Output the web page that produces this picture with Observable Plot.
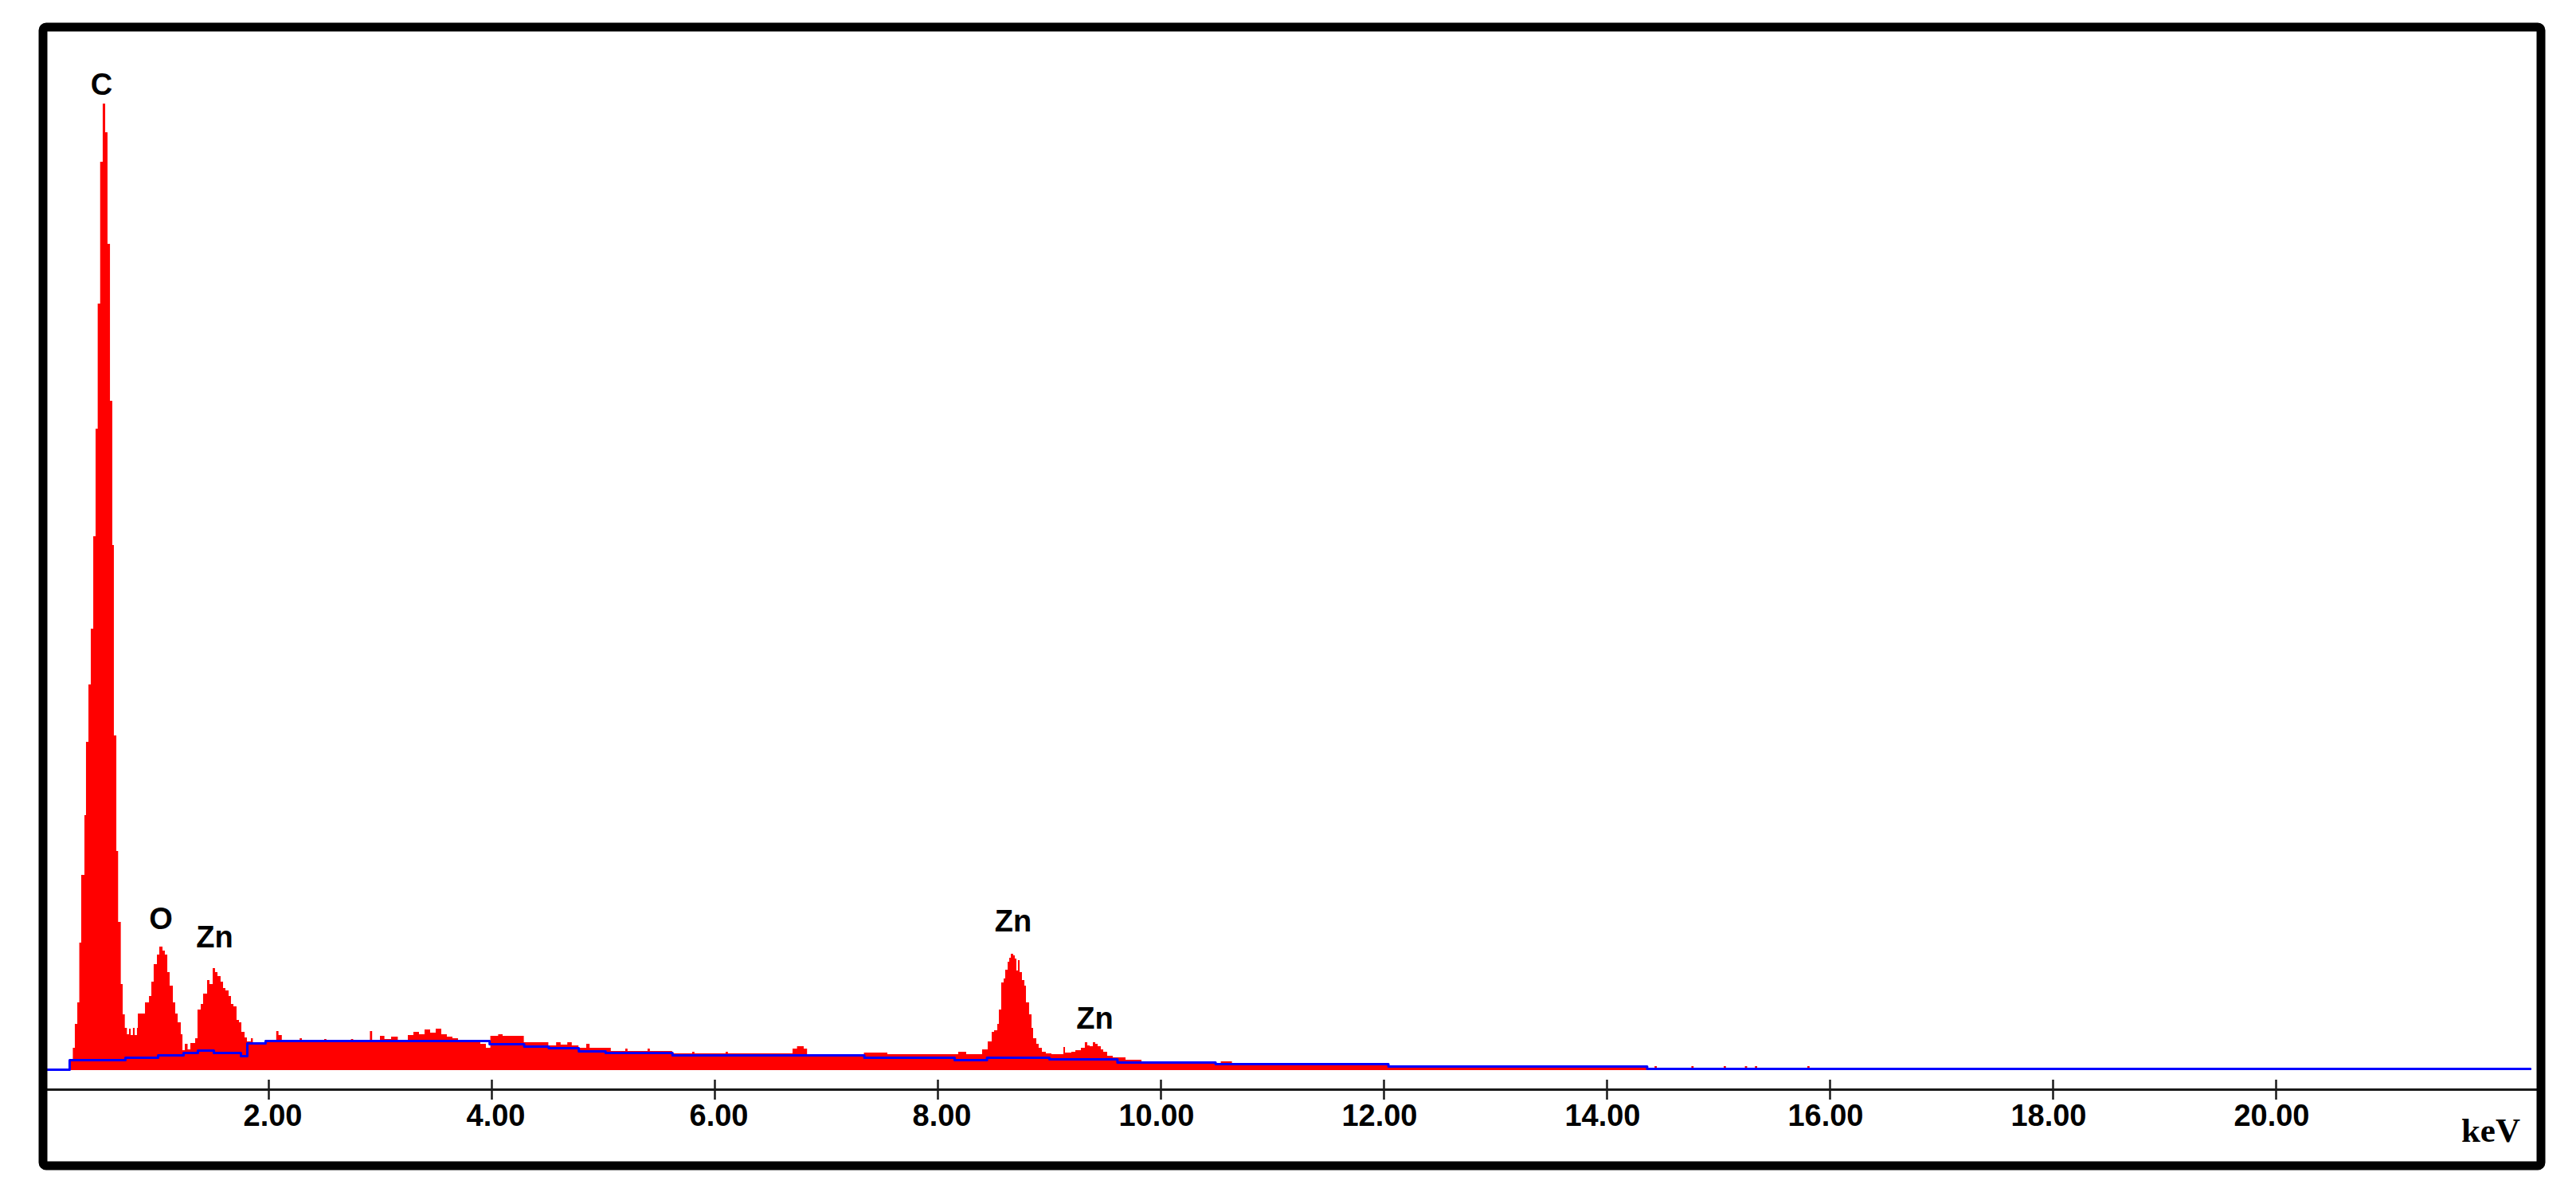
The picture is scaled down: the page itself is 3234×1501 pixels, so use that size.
<!DOCTYPE html>
<html>
<head>
<meta charset="utf-8">
<script src="https://cdn.jsdelivr.net/npm/d3@7"></script>
<script src="https://cdn.jsdelivr.net/npm/@observablehq/plot@0.6"></script>
<style>
  html, body { margin: 0; padding: 0; background: #ffffff; }
  #chart svg { display: block; }
</style>
</head>
<body>
<div id="chart"></div>
<script>
// EDS spectrum: [energy keV (step start), counts]
const spectrum = [
  [0.225, 11], [0.246, 28], [0.264, 58], [0.286, 85], [0.304, 160], [0.321, 245],
  [0.35, 320], [0.364, 412], [0.386, 484], [0.407, 554], [0.429, 670], [0.45, 805],
  [0.469, 962], [0.491, 1140], [0.514, 1213], [0.536, 1177], [0.557, 1037], [0.579, 840],
  [0.6, 659], [0.614, 420], [0.636, 275], [0.652, 186], [0.676, 108], [0.693, 70],
  [0.712, 53], [0.731, 45], [0.75, 52], [0.765, 44], [0.785, 53], [0.8, 44],
  [0.821, 53], [0.829, 71], [0.893, 85], [0.929, 93], [0.95, 111], [0.971, 133],
  [1.0, 145], [1.021, 155], [1.05, 150], [1.071, 145], [1.093, 123], [1.114, 106],
  [1.143, 85], [1.164, 71], [1.186, 60], [1.214, 45], [1.229, 25], [1.25, 33],
  [1.275, 26], [1.3, 34], [1.343, 40], [1.364, 76], [1.393, 83], [1.414, 96],
  [1.45, 113], [1.471, 108], [1.5, 128], [1.521, 123], [1.543, 118], [1.571, 111],
  [1.593, 103], [1.614, 100], [1.643, 93], [1.664, 83], [1.686, 80], [1.714, 63],
  [1.736, 60], [1.757, 48], [1.786, 41], [1.807, 36], [1.843, 40], [1.86, 34],
  [1.97, 36], [2.07, 49], [2.09, 44], [2.12, 37], [2.28, 40], [2.3, 37],
  [2.5, 39], [2.52, 37], [2.74, 39], [2.76, 37], [2.91, 49], [2.93, 37],
  [3.0, 43], [3.04, 39], [3.1, 42], [3.16, 38], [3.25, 44], [3.3, 48],
  [3.35, 45], [3.4, 51], [3.45, 47], [3.5, 52], [3.55, 45], [3.6, 42],
  [3.65, 40], [3.7, 38], [3.78, 35], [3.9, 33], [3.95, 28], [3.99, 43],
  [4.06, 45], [4.1, 43], [4.29, 35], [4.51, 31], [4.58, 35], [4.62, 32],
  [4.68, 35], [4.72, 31], [4.78, 28], [4.85, 33], [4.88, 28], [5.07, 24],
  [5.2, 27], [5.22, 24], [5.4, 27], [5.42, 24], [5.62, 21], [5.8, 23],
  [5.82, 21], [6.1, 23], [6.12, 21], [6.7, 27], [6.74, 30], [6.8, 27],
  [6.83, 19], [7.34, 22], [7.55, 20], [8.186, 23], [8.257, 20], [8.4, 26],
  [8.45, 36], [8.486, 48], [8.507, 50], [8.536, 58], [8.55, 76], [8.571, 110],
  [8.593, 115], [8.607, 126], [8.629, 136], [8.643, 141], [8.657, 146], [8.679, 144],
  [8.693, 140], [8.707, 125], [8.721, 138], [8.736, 123], [8.757, 113], [8.779, 106],
  [8.793, 85], [8.821, 70], [8.843, 53], [8.857, 40], [8.886, 33], [8.907, 28],
  [8.936, 23], [8.971, 21], [9.021, 20], [9.129, 29], [9.143, 22], [9.2, 23],
  [9.236, 25], [9.286, 28], [9.321, 35], [9.343, 31], [9.364, 30], [9.393, 35],
  [9.414, 33], [9.436, 30], [9.464, 26], [9.486, 23], [9.521, 18], [9.571, 16],
  [9.686, 13], [9.829, 10], [10.486, 9], [10.54, 11], [10.64, 6], [12.04, 3],
  [14.36, 0], [14.43, 5], [14.45, 0], [14.76, 5], [14.78, 0], [15.05, 5],
  [15.07, 0], [15.24, 5], [15.26, 0], [15.33, 5], [15.35, 0], [15.8, 5], [15.82, 0]
];

// Fitted background (blue step line): [energy keV, counts]
const background = [
  [0, 1], [0.214, 13], [0.714, 16], [1.007, 19], [1.236, 22], [1.364, 25],
  [1.507, 22], [1.75, 18], [1.807, 34], [1.971, 37], [3.98, 33], [4.29, 30],
  [4.51, 28], [4.78, 24], [5.02, 22], [5.62, 19], [7.34, 16], [8.15, 13],
  [8.44, 16], [9.0, 14], [9.61, 10], [10.49, 8], [12.04, 5], [14.36, 2], [22.28, 2]
];

const tickValues = [2, 4, 6, 8, 10, 12, 14, 16, 18, 20];
const tickLabels = ["2.00", "4.00", "6.00", "8.00", "10.00", "12.00", "14.00", "16.00", "18.00", "20.00"];
const axisUnit = "keV";

const peakLabels = ["C", "O", "Zn", "Zn", "Zn"];
const peakEnergy = [0.5, 1.032, 1.514, 8.675, 9.407];
const peakLabelCounts = [1225, 178, 155, 175, 53];

const chart = Plot.plot({
  width: 3234,
  height: 1501,
  marginLeft: 53.5,
  marginTop: 33.5,
  marginRight: 44.5,
  marginBottom: 38.5,
  style: { background: "#ffffff" },
  x: { domain: [0, 22.3], range: [57, 3179], axis: null },
  y: { domain: [0, 1303], range: [1343, 40], axis: null },
  marks: [
    Plot.areaY(spectrum, { x: d => d[0], y: d => d[1], curve: "step-after", fill: "#ff0000" }),
    Plot.lineY(background, { x: d => d[0], y: d => d[1], curve: "step-after", stroke: "#0000ff", strokeWidth: 3 }),
    Plot.ruleY([-24], { stroke: "#1a1a1a", strokeWidth: 3 }),
    Plot.ruleX(tickValues, { y1: -12, y2: -37, stroke: "#1a1a1a", strokeWidth: 2.5 }),
    Plot.text(tickValues, {
      x: d => d, y: -69, text: (d, i) => tickLabels[i],
      textAnchor: "end", dx: 42, lineAnchor: "bottom",
      fontSize: 38, fontWeight: "bold", fontFamily: "Liberation Sans, Arial, sans-serif", fill: "#000"
    }),
    Plot.text([axisUnit], {
      frameAnchor: "bottom-right", text: d => d, textAnchor: "end", lineAnchor: "bottom",
      dx: -26, dy: -30,
      fontSize: 43, fontWeight: "bold", fontFamily: "Liberation Serif, Times New Roman, serif", fill: "#000"
    }),
    Plot.text(peakLabels, {
      x: (d, i) => peakEnergy[i], y: (d, i) => peakLabelCounts[i], text: d => d,
      textAnchor: "middle", lineAnchor: "bottom",
      fontSize: 38, fontWeight: "bold", fontFamily: "Liberation Sans, Arial, sans-serif", fill: "#000"
    }),
    Plot.frame({ stroke: "#000000", strokeWidth: 11, rx: 4 })
  ]
});
document.getElementById("chart").appendChild(chart);
</script>
</body>
</html>
